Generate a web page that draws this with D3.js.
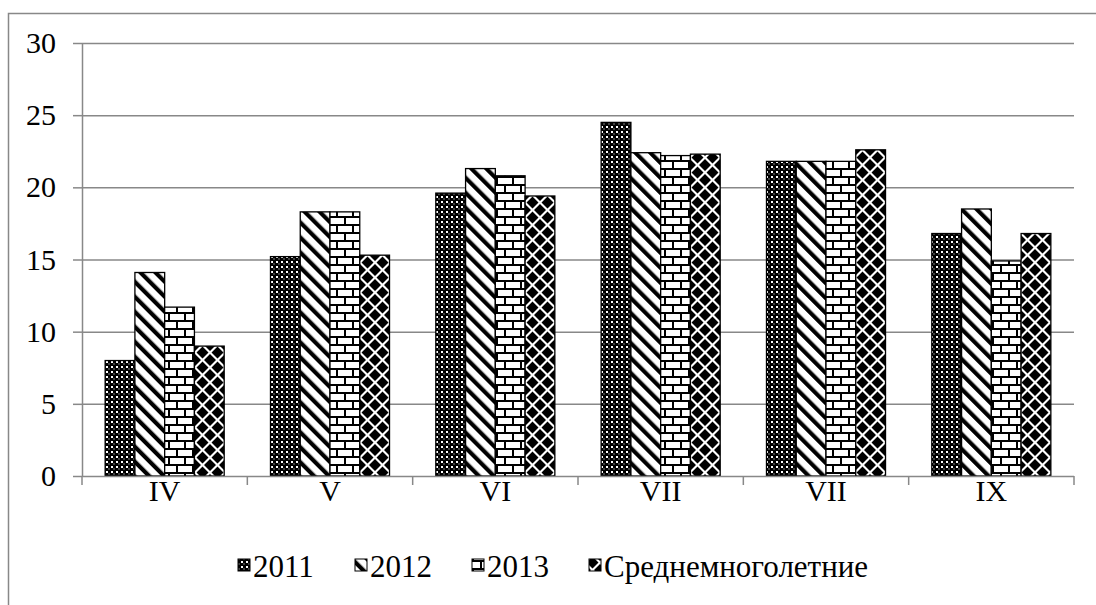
<!DOCTYPE html>
<html><head><meta charset="utf-8">
<script src="https://cdn.jsdelivr.net/npm/d3@7"></script>
</head><body>
<svg id="c" width="1096" height="605"></svg>
<script>
const categories = ["IV","V","VI","VII","VII","IX"];
const seriesNames = ["2011","2012","2013","Среднемноголетние"];
const s2011 = [8.0, 15.2, 19.6, 24.5, 21.8, 16.8];
const s2012 = [14.1, 18.3, 21.3, 22.4, 21.8, 18.5];
const s2013 = [11.7, 18.3, 20.8, 22.2, 21.8, 14.9];
const sAvg  = [9.0, 15.3, 19.4, 22.3, 22.6, 16.8];
const yTicks = [0,5,10,15,20,25,30];

d3.select("body").style("margin","0px");
d3.select("#c").style("display","block");
const FONT = "Liberation Serif";
const series = [s2011, s2012, s2013, sAvg];
const svg = d3.select("#c");
const defs = svg.append("defs");

// pattern 0: dotted grid
let p = defs.append("pattern").attr("id","p0").attr("patternUnits","userSpaceOnUse").attr("width",5).attr("height",5);
p.append("rect").attr("width",5).attr("height",5).attr("fill","#000");
p.append("rect").attr("x",1).attr("y",1).attr("width",2).attr("height",2).attr("fill","#fff");
p.append("rect").attr("x",3.5).attr("y",3.5).attr("width",1).attr("height",1).attr("fill","#fff");
// pattern 1: wide downward diagonal
p = defs.append("pattern").attr("id","p1").attr("patternUnits","userSpaceOnUse").attr("width",10.6).attr("height",10.6).attr("patternTransform","rotate(-45)");
p.append("rect").attr("width",10.6).attr("height",10.6).attr("fill","#fff");
p.append("rect").attr("width",4.2).attr("height",10.6).attr("fill","#000");
// pattern 2: horizontal brick
p = defs.append("pattern").attr("id","p2").attr("patternUnits","userSpaceOnUse").attr("width",16).attr("height",16);
p.append("rect").attr("width",16).attr("height",16).attr("fill","#fff");
p.append("rect").attr("x",0).attr("y",0).attr("width",16).attr("height",2).attr("fill","#000");
p.append("rect").attr("x",0).attr("y",8).attr("width",16).attr("height",2).attr("fill","#000");
p.append("rect").attr("x",0).attr("y",0).attr("width",2).attr("height",8).attr("fill","#000");
p.append("rect").attr("x",8).attr("y",8).attr("width",2).attr("height",8).attr("fill","#000");
// pattern 3: solid diamond
p = defs.append("pattern").attr("id","p3").attr("patternUnits","userSpaceOnUse").attr("width",15).attr("height",15);
p.append("rect").attr("width",15).attr("height",15).attr("fill","#fff");
const dm = (cx,cy,r)=>`M${cx},${cy-r}L${cx+r},${cy}L${cx},${cy+r}L${cx-r},${cy}Z`;
p.append("path").attr("d",dm(7.5,7.5,6)+dm(0,0,6)+dm(15,0,6)+dm(0,15,6)+dm(15,15,6)).attr("fill","#000");

// outer border
svg.append("rect").attr("x",8.5).attr("y",13.5).attr("width",1100).attr("height",700)
  .attr("fill","none").attr("stroke","#888").attr("stroke-width",1.5);

const pL = 82, pR = 1074, pT = 43, pB = 476;
const y = d3.scaleLinear().domain([0,30]).range([pB, pT]);
const x = d3.scaleBand().domain(d3.range(categories.length)).range([pL,pR]).paddingInner(0.28).paddingOuter(0.14);
const xs = d3.scaleBand().domain(d3.range(4)).range([0, x.bandwidth()]);

// gridlines
svg.append("g").selectAll("line").data(yTicks.filter(t=>t>0)).join("line")
  .attr("x1",pL).attr("x2",pR).attr("y1",d=>y(d)+0.5).attr("y2",d=>y(d)+0.5)
  .attr("stroke","#888").attr("stroke-width",1.5);

// y axis
const ya = svg.append("g");
ya.append("path").attr("fill","none").attr("stroke","#888").attr("stroke-width",1.5)
  .attr("d",`M${pL+0.5},${pT}V${pB}`);
ya.selectAll("line").data(yTicks).join("line")
  .attr("x1",pL-9).attr("x2",pL).attr("y1",d=>y(d)+0.5).attr("y2",d=>y(d)+0.5)
  .attr("stroke","#888").attr("stroke-width",1.5);
ya.selectAll("text").data(yTicks).join("text")
  .attr("x",56).attr("y",d=>y(d)+10).attr("text-anchor","end")
  .attr("font-family",FONT).attr("font-size",30).attr("fill","#000").text(d=>d);

// bars
const g = svg.append("g");
series.forEach((s,si)=>{
  g.append("g").selectAll("rect").data(s).join("rect")
    .attr("x",(d,i)=>x(i)+xs(si)).attr("width",xs.bandwidth())
    .attr("y",d=>y(d)).attr("height",d=>pB-y(d))
    .attr("fill",`url(#p${si})`).attr("stroke","#000").attr("stroke-width",1.3);
});

// x axis
const step = (pR-pL)/categories.length;
const xa = svg.append("g");
xa.append("line").attr("x1",pL).attr("x2",pR).attr("y1",pB+0.5).attr("y2",pB+0.5).attr("stroke","#888").attr("stroke-width",1.5);
xa.selectAll(".tk").data(d3.range(categories.length+1)).join("line").attr("class","tk")
  .attr("x1",i=>pL+i*step).attr("x2",i=>pL+i*step).attr("y1",pB).attr("y2",pB+9)
  .attr("stroke","#888").attr("stroke-width",1.5);
xa.selectAll("text").data(categories).join("text")
  .attr("x",(d,i)=>x(i)+x.bandwidth()/2).attr("y",pB+25).attr("text-anchor","middle")
  .attr("font-family",FONT).attr("font-size",30).attr("fill","#000").text(d=>d);

// legend
const legX = [238, 355, 472, 589];
const lg = svg.append("g");
seriesNames.forEach((n,i)=>{
  lg.append("rect").attr("x",legX[i]).attr("y",559).attr("width",12).attr("height",12)
    .attr("fill",`url(#p${i})`).attr("stroke","#000").attr("stroke-width",1);
  lg.append("text").attr("x",legX[i]+15).attr("y",577)
    .attr("font-family",FONT).attr("font-size",31).attr("fill","#000").text(n);
});
</script>
</body></html>
